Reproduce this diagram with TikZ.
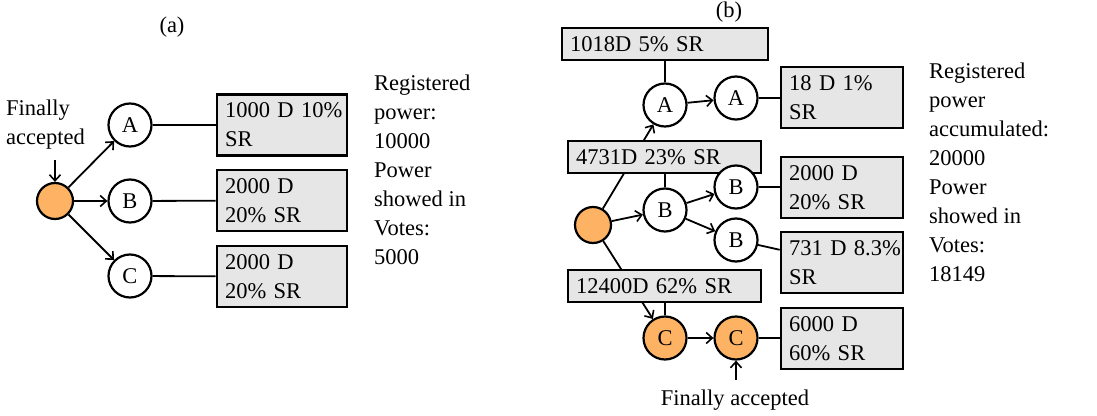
\documentclass[tikz,border=0pt]{standalone}
\usepackage{fontspec}
\setmainfont{Liberation Serif}
\usetikzlibrary{arrows.meta,calc}
\definecolor{accorange}{RGB}{253,178,100}
\definecolor{boxgray}{RGB}{230,230,230}
\pgfdeclarelayer{bg}
\pgfsetlayers{bg,main}
\begin{document}
\begin{tikzpicture}[x=1pt,y=-1pt,
  every node/.style={font=\fontsize{22.5}{29}\selectfont},
  vnode/.style={circle,draw,line width=2.2pt,fill=white,minimum size=43pt,inner sep=0pt},
  acc/.style={vnode,fill=accorange},
  root/.style={circle,draw,line width=2.2pt,fill=accorange,minimum size=36pt,inner sep=0pt},
  infobox/.style={draw,line width=2.6pt,fill=boxgray,inner xsep=8pt,inner ysep=0pt,
     minimum height=#1,anchor=center,align=left},
  twoline/.style={infobox=61pt,text width=114pt},
  oneline/.style={infobox=32pt},
  conn/.style={line width=1.8pt},
  arr/.style={conn,-{Straight Barb[length=6pt,width=11pt,line width=1.6pt]}},
  side/.style={align=left,anchor=north west,inner sep=0pt}
]
\useasboundingbox (0,0) rectangle (1097,415);

% ---------------- (a) ----------------
\node (la) at (172,27) {(a)};
\node[twoline] (ba) at (282,125) {\mbox{1000 D 10\%}\\SR};
\node[twoline] (bb) at (282,200.5) {2000 D\\20\% SR};
\node[twoline] (bc) at (282,276.5) {2000 D\\20\% SR};
\node[root] (ra) at (55,201) {};
\node[vnode] (na) at (130,125) {A};
\node[vnode] (nb) at (130,201) {B};
\node[vnode] (nc) at (130,276) {C};
\node[side] (fa) at (6,100) {Finally\\accepted};
\coordinate (fat) at (55,160);
\node[side] (ta) at (374,75) {Registered\\power:\\10000\\Power\\showed in\\Votes:\\5000};
\begin{pgfonlayer}{bg}
\draw[arr] (ra) -- (na);
\draw[arr] (ra) -- (nb);
\draw[arr] (ra) -- (nc);
\draw[conn] (na) -- (ba);
\draw[conn] (nb) -- (bb);
\draw[conn] (nc) -- (bc);
\draw[arr] (fat) -- (ra);
\end{pgfonlayer}

% ---------------- (b) ----------------
\node (lb) at (729,12) {(b)};
\node[oneline,text width=190pt] (b1018) at (665,44) {1018D 5\% SR};
\node[oneline,text width=177pt] (b4731) at (664.5,157) {4731D 23\% SR};
\node[oneline,text width=177pt] (b12400) at (664.5,286) {12400D 62\% SR};
\node[twoline,text width=106pt] (b18) at (842,97.5) {18 D 1\%\\SR};
\node[twoline,text width=106pt] (b2000) at (842,187.5) {2000 D\\20\% SR};
\node[twoline,text width=106pt] (b731) at (842,262.5) {\mbox{731 D 8.3\%}\\SR};
\node[twoline,text width=106pt] (b6000) at (842,338.5) {6000 D\\60\% SR};
\node[root] (rb) at (593,225) {};
\node[vnode] (a1) at (665,105) {A};
\node[vnode] (a2) at (736,98) {A};
\node[vnode] (b1) at (665,210) {B};
\node[vnode] (b2) at (736,187) {B};
\node[vnode] (b3) at (736,240) {B};
\node[acc] (c1) at (665,338) {C};
\node[acc] (c2) at (736,338) {C};
\node (fb) at (735,400) {Finally accepted};
\coordinate (fbt) at (736,380);
\node[side] (tb) at (929,63) {Registered\\power\\accumulated:\\20000\\Power\\showed in\\Votes:\\18149};
\coordinate (b731in) at ($(b731.north west)!0.3!(b731.south west)$);
\begin{pgfonlayer}{bg}
\draw[arr] (rb) -- (a1);
\draw[arr] (rb) -- (b1);
\draw[arr] (rb) -- (c1);
\draw[arr] (a1) -- (a2);
\draw[arr] (b1) -- (b2);
\draw[arr] (b1) -- (b3);
\draw[arr] (c1) -- (c2);
\draw[conn] (b1018) -- (a1);
\draw[conn] (b1.north |- b4731.south) -- (b1.north);
\draw[conn] (c1.north |- b12400.south) -- (c1.north);
\draw[conn] (a2) -- (a2 -| b18.west);
\draw[conn] (b2) -- (b2 -| b2000.west);
\draw[conn] (b3) -- (b731in);
\draw[conn] (c2) -- (c2 -| b6000.west);
\draw[arr] (fbt) -- (c2);
\end{pgfonlayer}
\end{tikzpicture}
\end{document}
